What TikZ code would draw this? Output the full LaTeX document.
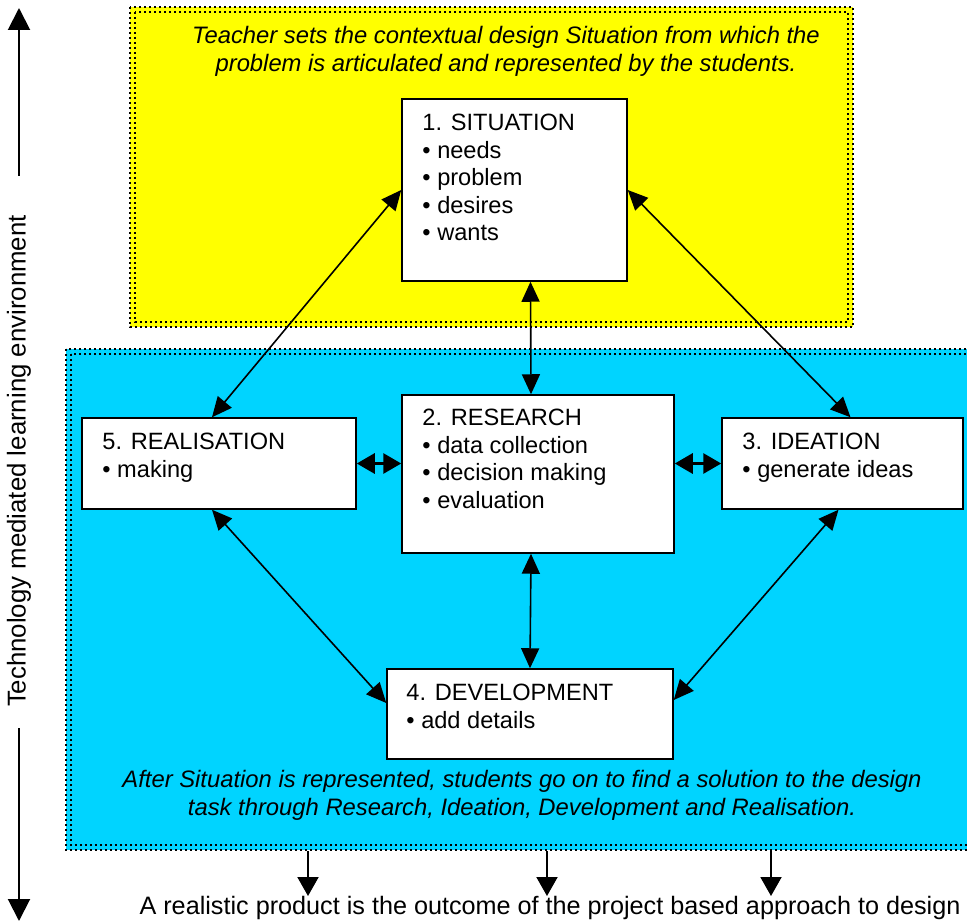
\documentclass[tikz,border=0pt]{standalone}
\usepackage{fontspec}
\setmainfont{Liberation Sans}
\usetikzlibrary{arrows.meta}
\definecolor{yellow}{HTML}{FFFF00}
\definecolor{cyan}{HTML}{00D4FF}

\tikzset{
  rim/.style={line width=2.2pt, dash pattern=on 2.2pt off 2.8pt},
  stage/.style={draw, line width=1.5pt, fill=white},
  stagetext/.style={anchor=north west, inner sep=0pt, align=left,
    font=\fontsize{23.6}{27.5}\selectfont},
  note/.style={align=center, inner sep=0pt,
    font=\fontsize{23.8}{28}\selectfont\itshape},
  bigtext/.style={inner sep=0pt, font=\fontsize{25.8}{30}\selectfont},
  link/.style={line width=1.6pt,
    {Triangle[length=20pt,width=18pt]}-{Triangle[length=20pt,width=18pt]}},
  swap/.style={line width=3pt,
    {Triangle[length=18pt,width=20pt]}-{Triangle[length=18pt,width=20pt]}},
  down/.style={line width=2pt, -{Triangle[length=19pt,width=21pt]}}
}

\begin{document}
\begin{tikzpicture}[x=1pt, y=-1pt]
  \useasboundingbox (0,0) rectangle (967,923);

  \fill[yellow] (130,7) rectangle (853,327);
  \fill[cyan] (66,349) rectangle (980,850);
  \draw[rim] (130,7) rectangle (853,327);
  \draw[rim] (135,12) rectangle (848,322);
  \draw[rim] (66,349) rectangle (990,850);
  \draw[rim] (71,354) rectangle (990,845);

  \node[note] (task) at (506,51) {Teacher sets the contextual design Situation from which the\\problem is articulated and represented by the students.};
  \node[note] (solution) at (522,795) {After Situation is represented, students go on to find a solution to the design\\task through Research, Ideation, Development and Realisation.};

  \node[stage, minimum width=225pt, minimum height=182pt] (sit) at (514.5,190) {};
  \node[stage, minimum width=272pt, minimum height=158pt] (res) at (538,474) {};
  \node[stage, minimum width=274pt, minimum height=91pt] (real) at (219,463.5) {};
  \node[stage, minimum width=241pt, minimum height=91pt] (idea) at (842.5,463.5) {};
  \node[stage, minimum width=286pt, minimum height=90pt] (dev) at (530,714) {};

  \node[stagetext] (sittext) at ([xshift=21pt,yshift=-16pt]sit.north west)
    {1. SITUATION\\\textbullet{} needs\\\textbullet{} problem\\\textbullet{} desires\\\textbullet{} wants};
  \node[stagetext] (restext) at ([xshift=21pt,yshift=-15pt]res.north west)
    {2. RESEARCH\\\textbullet{} data collection\\\textbullet{} decision making\\\textbullet{} evaluation};
  \node[stagetext] (realtext) at ([xshift=21pt,yshift=-16pt]real.north west)
    {5. REALISATION\\\textbullet{} making};
  \node[stagetext] (ideatext) at ([xshift=21pt,yshift=-16pt]idea.north west)
    {3. IDEATION\\\textbullet{} generate ideas};
  \node[stagetext] (devtext) at ([xshift=20pt,yshift=-16pt]dev.north west)
    {4. DEVELOPMENT\\\textbullet{} add details};

  % links between the stages
  \draw (sit.west) edge[link] ([xshift=-7pt]real.north);
  \draw (sit.east) edge[link] ([xshift=8pt]idea.north);
  \draw ([xshift=16pt]sit.south) edge[link] ([xshift=-7pt]res.north);
  \draw ([xshift=-7pt]res.south) edge[link] (dev.north);
  \draw ([xshift=-7pt]real.south) edge[link] ([yshift=11pt]dev.west);
  \draw ([xshift=-4pt]idea.south) edge[link] ([yshift=14pt]dev.east);
  \draw (real.east) edge[swap] (real.east -| res.west);
  \draw (idea.west -| res.east) edge[swap] (idea.west);

  % learning environment
  \node[bigtext, rotate=90] (tech) at (19,461) {Technology mediated learning environment};
  \coordinate (envtop) at (19,8);
  \coordinate (envbot) at (19,921);
  \draw[line width=2pt, -{Triangle[length=22pt,width=22pt]}, shorten <=39pt] (tech.east) -- (envtop);
  \draw[line width=2pt, -{Triangle[length=22pt,width=22pt]}, shorten <=21pt] (tech.west) -- (envbot);

  % outcome
  \node[bigtext, anchor=north, font=\fontsize{25.2}{30}\selectfont] (outcome) at (550,896) {A realistic product is the outcome of the project based approach to design};
  \coordinate (base1) at (308,851);
  \coordinate (base2) at (547,851);
  \coordinate (base3) at (771,851);
  \draw (base1) edge[down] (base1 |- outcome.north);
  \draw (base2) edge[down] (base2 |- outcome.north);
  \draw (base3) edge[down] (base3 |- outcome.north);

\end{tikzpicture}
\end{document}
